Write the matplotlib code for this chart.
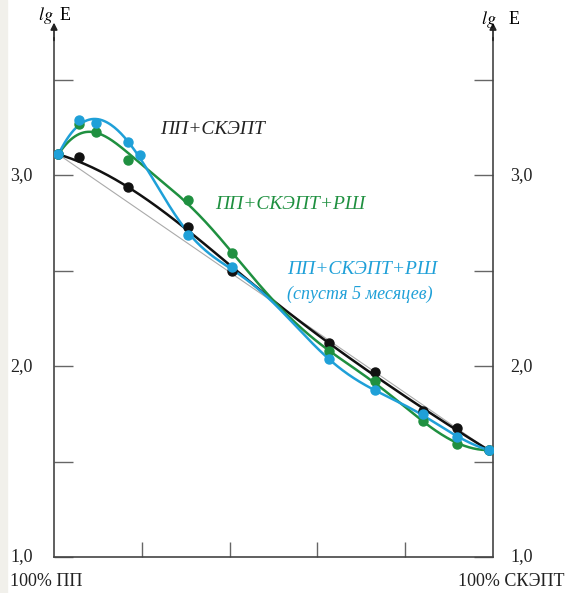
import numpy as np
import matplotlib.pyplot as plt
from matplotlib.patches import Rectangle

# composition, % of SKEPT in the blend
x_pp = [1, 5.7, 16.9, 30.5, 40.5, 62.6, 73.1, 84.1, 91.8, 99]
lg_pp = [3.11, 3.094, 2.937, 2.728, 2.497, 2.120, 1.969, 1.764, 1.675, 1.56]

x_rsh = [1, 5.7, 9.6, 16.9, 30.5, 40.5, 62.6, 73.1, 84.1, 91.8, 99]
lg_rsh = [3.11, 3.267, 3.225, 3.079, 2.869, 2.592, 2.079, 1.921, 1.712, 1.592, 1.56]

x_5m = [1, 5.7, 9.6, 16.9, 19.6, 30.5, 40.5, 62.6, 73.1, 84.1, 91.8, 99]
lg_5m = [3.11, 3.288, 3.277, 3.173, 3.105, 2.686, 2.518, 2.037, 1.874, 1.749, 1.628, 1.56]

yticks = [1.0, 1.5, 2.0, 2.5, 3.0, 3.5]
ylabels = {1.0: '1,0', 2.0: '2,0', 3.0: '3,0'}

BLACK = '#111111'
GREEN = '#1f9040'
BLUE = '#1fa0d8'
AXC = '#444444'
serif = 'Liberation Serif'

fig = plt.figure(figsize=(5.66, 5.93), dpi=100)
fig.patches.append(Rectangle((0, 0), 7 / 566, 1, transform=fig.transFigure,
                             color='#f1f0eb', zorder=-1))
ax = fig.add_axes([54 / 566, 36 / 593, 439 / 566, 519 / 593])
ax.set_xlim(0, 100)
ax.set_ylim(1.0, 3.72)


def smooth(x, y, lam, d=3, step=0.25):
    # whittaker smoother on a fine grid, ends pinned
    x = np.asarray(x, float)
    y = np.asarray(y, float)
    n = int(round((x[-1] - x[0]) / step)) + 1
    gx = np.linspace(x[0], x[-1], n)
    w = np.zeros(n)
    z = np.zeros(n)
    idx = np.round((x - x[0]) / step).astype(int)
    w[idx] = 1.0
    w[idx[0]] = w[idx[-1]] = 50.0
    z[idx] = y
    D = np.diff(np.eye(n), d, axis=0)
    A = np.diag(w) + lam * D.T @ D
    return gx, np.linalg.solve(A, w * z)


# straight additive line
ax.plot([x_pp[0], x_pp[-1]], [lg_pp[0], lg_pp[-1]], color='#aaaaaa', lw=0.8, zorder=2)

for xs, ys, col, lam in [(x_pp, lg_pp, BLACK, 1e8), (x_rsh, lg_rsh, GREEN, 1.5e6),
                         (x_5m, lg_5m, BLUE, 5e5)]:
    cx, cy = smooth(xs, ys, lam)
    ax.plot(cx, cy, color=col, lw=1.8, zorder=3)
    ax.plot(xs, ys, 'o', color=col, ms=6.5, zorder=4)

ax.spines['top'].set_visible(False)
for s in ['left', 'right', 'bottom']:
    ax.spines[s].set_color(AXC)
    ax.spines[s].set_linewidth(1.2)

ax.set_xticks([20, 40, 60, 80])
ax.set_xticklabels([])
ax.tick_params(axis='x', direction='in', length=11, color='#666666', width=1)
ax.set_yticks(yticks)
ax.set_yticklabels([])
ax.tick_params(axis='y', direction='in', length=14, color='#666666', width=1,
               left=True, right=True)

# arrows on vertical axes
for xa in (0, 1):
    ax.annotate('', xy=(xa, 1.035), xytext=(xa, 0.99), xycoords='axes fraction',
                arrowprops=dict(arrowstyle='-|>', color='#222222', lw=1.2,
                                mutation_scale=10), annotation_clip=False)

for v, t in ylabels.items():
    ax.text(-0.1, v, t, transform=ax.get_yaxis_transform(), ha='left', va='center',
            fontsize=13, family=serif, color='#222222')
    ax.text(1.04, v, t, transform=ax.get_yaxis_transform(), ha='left', va='center',
            fontsize=13, family=serif, color='#222222')

fig.text(38 / 566, 1 - 15 / 593, r'$lg$', fontsize=13, family=serif, ha='left', va='center',
         math_fontfamily='stix')
fig.text(60 / 566, 1 - 15 / 593, 'E', fontsize=13, family=serif, ha='left', va='center')
fig.text(481 / 566, 1 - 20 / 593, r'$lg$', fontsize=13, family=serif, ha='left', va='center',
         math_fontfamily='stix')
fig.text(509 / 566, 1 - 20 / 593, 'E', fontsize=13, family=serif, ha='left', va='center')

fig.text(10 / 566, 1 - 581 / 593, '100% ПП', fontsize=13, family=serif, ha='left', va='center',
         color='#222222')
fig.text(565 / 566, 1 - 581 / 593, '100% СКЭПТ', fontsize=13, family=serif, ha='right',
         va='center', color='#222222')

fig.text(160 / 566, 1 - 130 / 593, 'ПП+СКЭПТ', fontsize=14, family=serif, style='italic',
         color='#222222', va='center')
fig.text(215 / 566, 1 - 205 / 593, 'ПП+СКЭПТ+РШ', fontsize=14, family=serif, style='italic',
         color=GREEN, va='center')
fig.text(287 / 566, 1 - 270 / 593, 'ПП+СКЭПТ+РШ', fontsize=14, family=serif, style='italic',
         color=BLUE, va='center')
fig.text(287 / 566, 1 - 294 / 593, '(спустя 5 месяцев)', fontsize=13, family=serif,
         style='italic', color=BLUE, va='center')

fig.savefig('out.png', dpi=100)
